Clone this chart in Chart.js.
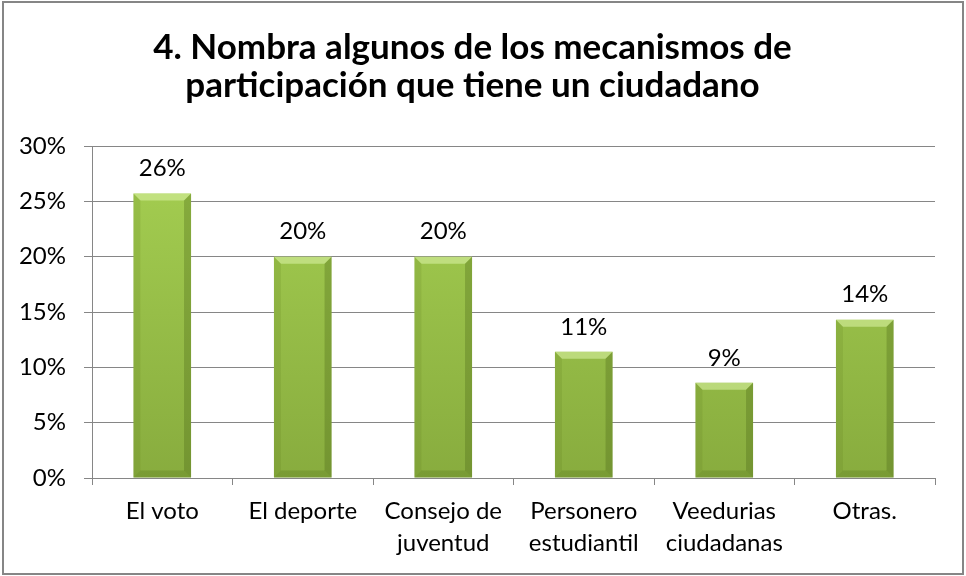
<!DOCTYPE html>
<html>
<head>
<meta charset="utf-8">
<script src="https://cdn.jsdelivr.net/npm/chart.js@4/dist/chart.umd.min.js"></script>
<style>
  html, body { margin: 0; padding: 0; background: #fff; }
  #wrap { width: 966px; height: 576px; }
</style>
</head>
<body>
<div id="wrap"><canvas id="grafico" width="966" height="576"></canvas></div>
<script>
// datos
const categorias = ['El voto', 'El deporte', ['Consejo de', 'juventud'], ['Personero', 'estudiantil'], ['Veedurias', 'ciudadanas'], 'Otras.'];
const porcentajes = [0.257, 0.200, 0.200, 0.114, 0.086, 0.143];
const tituloLineas = ['4. Nombra algunos de los mecanismos de', 'participación que tiene un ciudadano'];

const fuente = 'Lato, "Open Sans", sans-serif';
const gris = '#868686';

// marco y fondo blanco
const marco = {
  id: 'marco',
  beforeDraw(chart) {
    const c = chart.ctx;
    c.save();
    c.fillStyle = '#fff';
    c.fillRect(0, 0, chart.width, chart.height);
    c.strokeStyle = gris;
    c.lineWidth = 2;
    c.strokeRect(3, 2, 960, 572);
    c.restore();
  }
};

// bisel de las barras + etiquetas de datos
const biselEtiquetas = {
  id: 'biselEtiquetas',
  afterDatasetsDraw(chart) {
    const c = chart.ctx;
    const meta = chart.getDatasetMeta(0);
    c.save();
    meta.data.forEach((bar, i) => {
      const w = bar.width, l = bar.x - w / 2, r = bar.x + w / 2, t = bar.y, b = bar.base;
      const bv = 7;
      // parte superior clara
      c.fillStyle = 'rgba(215,240,160,0.6)';
      c.beginPath();
      c.moveTo(l, t); c.lineTo(r, t); c.lineTo(r - bv, t + bv); c.lineTo(l + bv, t + bv); c.closePath();
      c.fill();
      // lado derecho oscuro
      c.fillStyle = 'rgba(70,95,20,0.3)';
      c.beginPath();
      c.moveTo(r, t); c.lineTo(r, b); c.lineTo(r - bv, b - bv); c.lineTo(r - bv, t + bv); c.closePath();
      c.fill();
      // lado izquierdo
      c.fillStyle = 'rgba(70,95,20,0.12)';
      c.beginPath();
      c.moveTo(l, t); c.lineTo(l, b); c.lineTo(l + bv, b - bv); c.lineTo(l + bv, t + bv); c.closePath();
      c.fill();
      // abajo
      c.fillStyle = 'rgba(70,95,20,0.22)';
      c.beginPath();
      c.moveTo(l, b); c.lineTo(r, b); c.lineTo(r - bv, b - bv); c.lineTo(l + bv, b - bv); c.closePath();
      c.fill();

      c.fillStyle = '#000';
      c.font = '24px ' + fuente;
      c.textAlign = 'center';
      c.textBaseline = 'middle';
      c.fillText(Math.round(porcentajes[i] * 100) + '%', bar.x, t - 25);
    });
    c.restore();
  }
};

const ctx = document.getElementById('grafico').getContext('2d');
const grafico = new Chart(ctx, {
  type: 'bar',
  data: {
    labels: categorias,
    datasets: [{
      data: porcentajes,
      backgroundColor: (context) => {
        const area = context.chart.chartArea;
        if (!area) return '#9bbb59';
        const g = context.chart.ctx.createLinearGradient(0, area.top, 0, area.bottom);
        g.addColorStop(0, '#a6d052');
        g.addColorStop(1, '#88ac3e');
        return g;
      },
      borderWidth: 0,
      barPercentage: 0.41,
      categoryPercentage: 1
    }]
  },
  options: {
    responsive: false,
    animation: false,
    layout: { padding: { left: 10, right: 31, top: 0, bottom: 0 } },
    plugins: {
      legend: { display: false },
      tooltip: { enabled: false },
      title: {
        display: true,
        text: tituloLineas,
        color: '#000',
        font: { family: fuente, size: 35, weight: 'bold', lineHeight: 1.1 },
        padding: { top: 28, bottom: 41 }
      }
    },
    scales: {
      x: {
        grid: { display: true, drawOnChartArea: false, drawTicks: true, tickLength: 7, color: gris, offset: true },
        border: { color: gris },
        ticks: { color: '#000', font: { family: fuente, size: 24, lineHeight: 1.3 }, padding: 11, maxRotation: 0, autoSkip: false },
        afterFit(s) { s.height = 98; }
      },
      y: {
        min: 0,
        max: 0.30,
        grid: { color: gris, tickLength: 8 },
        border: { color: gris },
        ticks: {
          stepSize: 0.05,
          color: '#000',
          font: { family: fuente, size: 24 },
          padding: 18,
          callback: (v) => Math.round(v * 100) + '%'
        },
        afterFit(s) { s.width = 82; }
      }
    }
  },
  plugins: [marco, biselEtiquetas]
});
</script>
</body>
</html>
